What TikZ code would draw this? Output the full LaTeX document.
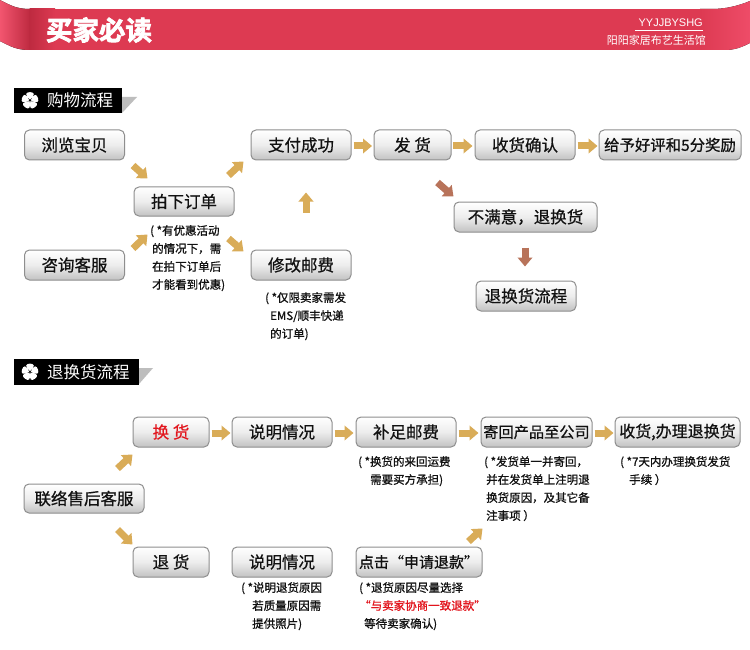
\documentclass[tikz,border=0pt]{standalone}
\usepackage{fontspec}
\usetikzlibrary{arrows.meta,calc}
\setmainfont{Noto Sans CJK SC}
\newfontfamily\heavycjk[BoldFont={Noto Sans CJK SC Bold},FakeBold=2.6]{Noto Sans CJK SC}
\newfontfamily\notecjk[FakeBold=1.0]{Noto Sans CJK SC}
\newfontfamily\btncjk[FakeBold=0.7]{Noto Sans CJK SC}
\newfontfamily\latinsans{Liberation Sans}
\definecolor{bandmain}{HTML}{DD3A52}
\definecolor{bandpink}{HTML}{F2556F}
\definecolor{banddark}{HTML}{BE2A40}
\definecolor{bandright}{HTML}{EE4C68}
\definecolor{gold}{HTML}{D9AC58}
\definecolor{rust}{HTML}{B8735A}
\definecolor{btnedge}{HTML}{8E8E8E}
\definecolor{btnlow}{HTML}{C2C2C2}
\definecolor{btnmid}{HTML}{EDEDED}
\definecolor{tagshadow}{HTML}{BDBDBD}
\definecolor{inkdark}{HTML}{111111}
\definecolor{redtext}{HTML}{E2141C}
\tikzset{
  btn/.style={draw=btnedge,line width=1pt,rounded corners=5pt,top color=white,bottom color=btnlow,middle color=btnmid,
    minimum height=30pt,minimum width=100pt,inner sep=0pt,text=inkdark,font=\btncjk\fontsize{16.5}{16.5}\selectfont},
  narrowbtn/.style={btn,minimum width=76pt},
  notetext/.style={anchor=north west,inner sep=0pt,align=left,text=inkdark,font=\notecjk\fontsize{11.5}{18}\selectfont},
  goldarrow/.style={draw=gold,line width=7pt,-{Triangle[length=9pt,width=14.5pt]}},
  rustarrow/.style={draw=rust,line width=7pt,-{Triangle[length=9pt,width=14.5pt]}},
  tagtext/.style={anchor=west,inner sep=0pt,text=white,font=\fontsize{16.5}{16.5}\selectfont}
}
\begin{document}
\begin{tikzpicture}[x=1pt,y=-1pt]
\useasboundingbox (0,0) rectangle (750,650);
\fill[white] (0,0) rectangle (750,650);
% banner
\fill[left color=bandpink,right color=banddark] (0,0) .. controls (10,5) and (16,9) .. (30,9) -- (30,50) .. controls (16,50) and (10,46) .. (0,41) -- cycle;
\fill[left color=banddark,right color=bandmain] (29.5,9) rectangle (55,50);
\fill[bandmain] (54.5,9) rectangle (700.5,50);
\fill[left color=bandmain,right color=bandright] (700,9) -- (712,9) .. controls (725,9) and (738,6) .. (750,1) -- (750,43) .. controls (742,47) and (735,50) .. (725,50) -- (700,50) -- cycle;
\node[anchor=center,inner sep=0pt,text=white,font=\heavycjk\bfseries\fontsize{26.5}{26.5}\selectfont] (title) at (99,30) {买家必读};
\node[anchor=east,inner sep=0pt,text=white,font=\latinsans\fontsize{11}{11}\selectfont] (brand) at (703,23) {YYJJBYSHG};
\draw[white,line width=0.9pt] (635,30.7) -- (703,30.7);
\node[anchor=east,inner sep=0pt,text=white,font=\fontsize{11}{11}\selectfont] (shop) at (706,40) {阳阳家居布艺生活馆};
% section tags
\fill[tagshadow] (122,97) -- (137,97) -- (122,113) -- cycle;
\fill[black] (14,88) rectangle (122,113);
\fill[tagshadow] (139,368) -- (153,368) -- (139,384) -- cycle;
\fill[black] (14,359) rectangle (139,385);
\foreach \cy in {100.5,372}{
  \foreach \a in {18,90,162,234,306}{
    \fill[white,rotate around={\a:(30,\cy)}] (30.8,\cy) .. controls (33,\cy-2.2) and (34,\cy-4) .. (36.5,\cy-3.8) .. controls (39,\cy-3.6) and (39,\cy+3.6) .. (36.5,\cy+3.8) .. controls (34,\cy+4) and (33,\cy+2.2) .. (30.8,\cy) -- cycle;
  }
}
\node[tagtext] (tagone) at (47,100.5) {购物流程};
\node[tagtext] (tagtwo) at (47,372) {退换货流程};
% upper flow
\node[btn] (browse) at (74.5,145) {浏览宝贝};
\node[btn] (paid) at (301,145) {支付成功};
\node[btn,minimum height=29pt] (order) at (184,201.5) {拍下订单};
\node[btn] (consult) at (74.5,265) {咨询客服};
\node[btn] (postage) at (301,265) {修改邮费};
\node[narrowbtn,minimum width=77pt] (ship) at (412.5,145) {发 货};
\node[btn] (receive) at (525,145) {收货确认};
\node[btn,minimum width=142pt,font=\btncjk\fontsize{15.4}{15.4}\selectfont] (rate) at (670,145) {给予好评和5分奖励};
\node[btn,minimum width=143pt] (unhappy) at (525.5,217) {不满意，退换货};
\node[btn] (returnflow) at (526,296) {退换货流程};
% lower flow
\node[narrowbtn] (exchange) at (171,432) {\textcolor{redtext}{换 货}};
\node[btn] (explaina) at (282,432) {说明情况};
\node[btn] (topup) at (406,432) {补足邮费};
\node[btn,minimum width=111pt,font=\btncjk\fontsize{15.2}{15.2}\selectfont] (sendback) at (536.5,432) {寄回产品至公司};
\node[btn,minimum width=125pt,font=\btncjk\fontsize{16}{16}\selectfont] (finish) at (677.5,432) {收货,办理退换货};
\node[btn,minimum width=120pt,minimum height=29pt] (aftersale) at (84,498.5) {联络售后客服};
\node[narrowbtn] (refund) at (171,562) {退 货};
\node[btn] (explainb) at (282,562) {说明情况};
\node[btn,minimum width=126pt,font=\btncjk\fontsize{15}{15}\selectfont] (apply) at (419,562) {点击“申请退款”};
% notes
\node[notetext] (noteone) at (150,225) {( *有优惠活动\\\hspace*{2pt}的情况下，需\\\hspace*{2pt}在拍下订单后\\\hspace*{2pt}才能看到优惠)};
\node[notetext] (notetwo) at (265,292) {( *仅限卖家需发\\\hspace*{5pt}EMS/顺丰快递\\\hspace*{5pt}的订单)};
\node[notetext] (notethree) at (241,582) {( *说明退货原因\\\hspace*{11pt}若质量原因需\\\hspace*{11pt}提供照片)};
\node[notetext] (notefour) at (358,456) {( *换货的来回运费\\\hspace*{12pt}需要买方承担)};
\node[notetext] (notefive) at (484,456) {( *发货单一并寄回，\\\hspace*{2pt}并在发货单上注明退\\\hspace*{2pt}换货原因，及其它备\\\hspace*{2pt}注事项 ）};
\node[notetext] (notesix) at (620,456) {( *7天内办理换货发货\\\hspace*{9pt}手续 ）};
\node[notetext] (noteseven) at (359,582) {( *退货原因尽量选择\\\textcolor{redtext}{“与卖家协商一致退款”}\\\hspace*{5pt}等待卖家确认)};
% arrows
\draw[goldarrow] ($(browse.south east)+(8,5)$) -- ($(order.north west)+(14,-8)$);
\draw[goldarrow] ($(order.north east)+(-6,-11)$) -- ($(paid.south west)+(-7,1)$);
\draw[goldarrow] ($(consult.north east)+(8,-1)$) -- ($(order.south west)+(14,18)$);
\draw[goldarrow] ($(order.south east)+(-6,22)$) -- ($(postage.north west)+(-7,2)$);
\draw[goldarrow] ($(postage.north)+(5,-37)$) -- ($(paid.south)+(5,32)$);
\draw[goldarrow] ($(paid.east)+(2,1)$) -- ($(ship.west)+(-1.5,1)$);
\draw[goldarrow] ($(ship.east)+(1.5,1)$) -- ($(receive.west)+(-2,1)$);
\draw[goldarrow] ($(receive.east)+(2,1)$) -- ($(rate.west)+(-1,1)$);
\draw[rustarrow] ($(ship.south)+(25,22)$) -- ($(unhappy.north west)+(0,-5)$);
\draw[rustarrow] ($(unhappy.south)+(-0.5,15)$) -- ($(returnflow.north)+(-1,-14)$);
\draw[goldarrow] ($(exchange.east)+(2,1)$) -- ($(explaina.west)+(-1,1)$);
\draw[goldarrow] ($(explaina.east)+(2,1)$) -- ($(topup.west)+(-2,1)$);
\draw[goldarrow] ($(topup.east)+(2,1)$) -- ($(sendback.west)+(-2,1)$);
\draw[goldarrow] ($(sendback.east)+(2,1)$) -- ($(finish.west)+(-1,1)$);
\draw[goldarrow] ($(aftersale.north east)+(-27,-15)$) -- ($(exchange.south west)+(0,7)$);
\draw[goldarrow] ($(aftersale.south east)+(-27,16)$) -- ($(refund.north west)+(0,-2)$);
\draw[goldarrow] ($(apply.north east)+(-14,-5)$) -- ($(sendback.south west)+(2,81)$);
\end{tikzpicture}
\end{document}
